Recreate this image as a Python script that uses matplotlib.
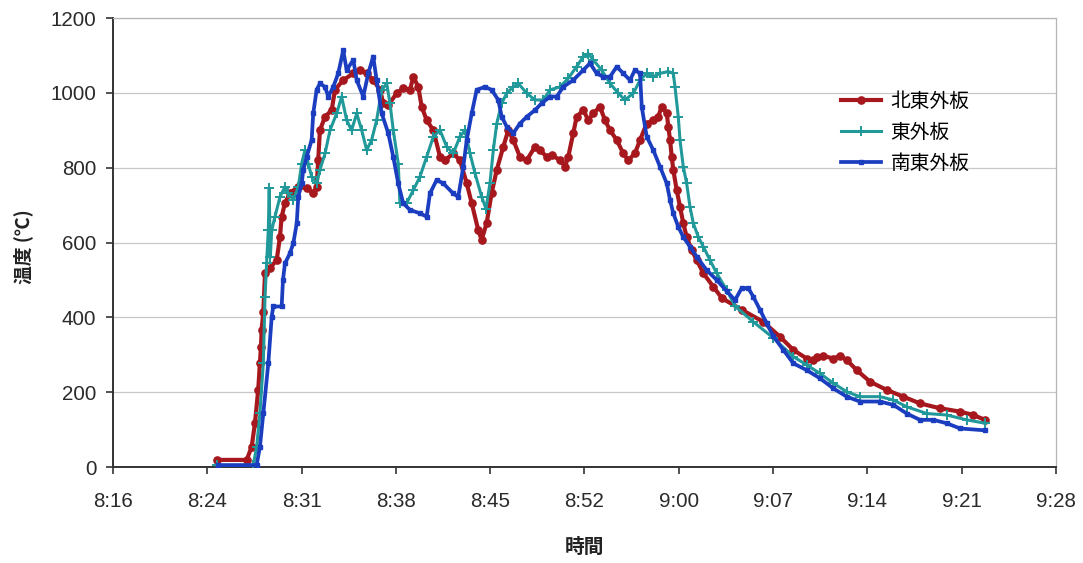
import matplotlib
matplotlib.use("Agg")
import matplotlib.pyplot as plt
from matplotlib.ticker import FixedLocator

plt.rcParams['font.family'] = ['Liberation Sans', 'Noto Sans CJK JP', 'DejaVu Sans']

# time in minutes after 8:00, temperature in deg C
ne_time = [24.77, 27.06, 27.44, 27.69, 27.94, 28.07, 28.15, 28.20, 28.33, 28.46, 28.84, 29.35,
           29.60, 29.73, 29.98, 30.36, 31.00, 31.64, 32.14, 32.40, 32.52, 32.65, 33.04, 33.55,
           33.80, 34.43, 35.20, 35.71, 36.22, 36.72, 37.24, 37.49, 37.87, 38.51, 39.01, 39.53,
           39.78, 40.16, 40.42, 40.80, 41.31, 41.82, 42.20, 42.83, 43.34, 43.86, 44.24, 44.74,
           45.00, 45.38, 45.76, 46.15, 46.65, 47.03, 47.41, 47.92, 48.44, 49.07, 49.45, 49.96,
           50.35, 50.98, 51.36, 51.61, 51.99, 52.25, 52.76, 53.14, 53.52, 54.03, 54.41, 54.80,
           55.31, 55.81, 56.19, 56.70, 57.09, 57.60, 58.10, 58.48, 58.74, 59.13, 59.25, 59.38,
           59.51, 59.63, 59.89, 60.14, 60.39, 60.65, 61.03, 61.42, 61.92, 62.68, 63.35, 64.87,
           66.50, 67.78, 68.79, 69.81, 70.32, 70.58, 71.08, 71.85, 72.36, 72.87, 73.63, 74.65,
           75.92, 77.19, 78.46, 79.99, 81.52, 82.53, 83.43]
ne_temp = [19, 19, 54, 117, 206, 278, 321, 366, 415, 518, 532, 553,
           615, 669, 705, 732, 749, 745, 732, 749, 820, 900, 936, 954,
           1008, 1034, 1052, 1061, 1052, 1034, 1008, 972, 967, 999, 1012, 1008,
           1043, 1016, 963, 927, 900, 829, 820, 838, 820, 758, 705, 633,
           607, 652, 732, 794, 856, 900, 874, 829, 820, 856, 847, 829,
           834, 820, 803, 829, 892, 936, 954, 927, 945, 963, 927, 900,
           874, 838, 820, 838, 874, 918, 927, 936, 963, 945, 910, 874,
           829, 794, 740, 696, 652, 615, 580, 553, 518, 482, 451, 420,
           388, 348, 313, 290, 286, 295, 297, 290, 297, 286, 259, 228,
           206, 188, 170, 157, 148, 139, 126]

e_time = [24.77, 27.56, 27.82, 28.07, 28.33, 28.46, 28.58, 28.71, 28.78, 28.86, 28.97, 29.22,
          29.60, 29.98, 30.23, 30.62, 31.00, 31.26, 31.51, 31.76, 32.02, 32.40, 32.65, 33.04,
          33.42, 33.93, 34.31, 34.69, 35.07, 35.46, 35.84, 36.22, 36.60, 36.98, 37.37, 37.75,
          38.00, 38.25, 38.63, 38.76, 39.27, 39.78, 40.29, 40.80, 41.31, 41.82, 42.33, 42.83,
          43.34, 43.73, 44.11, 44.49, 45.00, 45.33, 45.63, 45.89, 46.15, 46.53, 46.91, 47.41,
          47.80, 48.44, 49.07, 49.70, 50.22, 50.98, 51.61, 52.25, 52.76, 53.14, 53.52, 54.16,
          54.80, 55.43, 55.94, 56.58, 57.09, 57.60, 58.10, 58.61, 59.25, 59.63, 59.76, 60.01,
          60.14, 60.39, 60.65, 60.90, 61.16, 61.54, 61.92, 62.43, 62.94, 63.71, 64.34, 65.74,
          67.26, 68.79, 69.81, 70.83, 71.85, 72.87, 73.88, 75.41, 76.43, 77.45, 78.98, 80.50,
          82.03, 83.43]
e_temp = [5, 5, 54, 144, 278, 455, 545, 633, 745, 560, 633, 669,
          722, 749, 732, 714, 749, 811, 847, 811, 776, 758, 794, 838,
          900, 945, 990, 927, 900, 945, 900, 847, 874, 927, 1008, 1025,
          972, 900, 811, 705, 705, 740, 776, 829, 883, 900, 856, 838,
          883, 900, 838, 785, 722, 690, 758, 847, 918, 972, 999, 1016,
          1025, 999, 981, 981, 1008, 1016, 1039, 1070, 1097, 1105, 1088, 1061,
          1025, 999, 981, 999, 1034, 1052, 1043, 1052, 1057, 1052, 1016, 936,
          874, 803, 758, 696, 651, 615, 589, 553, 518, 473, 430, 388,
          345, 295, 273, 250, 224, 201, 188, 188, 179, 161, 143, 139,
          126, 117]

se_time = [24.87, 27.82, 28.07, 28.33, 28.71, 28.97, 29.09, 29.73, 29.83, 29.98, 30.36, 30.62,
           30.88, 31.00, 31.26, 31.38, 31.64, 32.02, 32.14, 32.40, 32.65, 33.04, 33.29, 33.67,
           34.05, 34.43, 34.69, 35.20, 35.46, 35.96, 36.34, 36.72, 36.98, 37.37, 37.87, 38.25,
           38.63, 39.01, 39.53, 40.29, 40.80, 41.05, 41.56, 42.07, 42.83, 43.21, 43.60, 43.86,
           44.24, 44.62, 45.25, 45.76, 46.27, 46.53, 46.91, 47.41, 47.92, 48.44, 49.07, 49.58,
           50.22, 50.73, 51.23, 51.99, 52.76, 53.27, 53.78, 54.28, 54.80, 55.31, 55.81, 56.32,
           56.70, 57.09, 57.22, 57.60, 58.10, 58.61, 59.13, 59.38, 59.63, 60.01, 60.39, 60.90,
           61.42, 62.18, 62.94, 63.71, 64.34, 64.85, 65.36, 65.74, 66.25, 66.76, 67.26, 68.03,
           68.79, 69.81, 70.83, 71.85, 72.87, 73.88, 75.41, 76.43, 77.45, 78.46, 79.48, 80.50,
           81.52, 83.43]
se_temp = [5, 5, 54, 144, 277, 402, 429, 429, 500, 544, 571, 598,
           651, 722, 758, 794, 829, 874, 945, 1008, 1025, 1016, 990, 1016,
           1052, 1114, 1061, 1088, 1034, 990, 1052, 1097, 1034, 945, 892, 829,
           758, 705, 687, 678, 669, 731, 767, 758, 731, 722, 803, 874,
           945, 1008, 1016, 1008, 981, 936, 910, 892, 918, 936, 954, 972,
           990, 990, 1016, 1034, 1061, 1079, 1052, 1043, 1043, 1070, 1052, 1034,
           1061, 1052, 963, 883, 847, 803, 758, 714, 678, 642, 615, 589,
           562, 526, 500, 470, 446, 478, 478, 455, 420, 384, 350, 313,
           277, 259, 237, 210, 188, 175, 175, 166, 143, 126, 126, 117,
           103, 98]

series_labels = ['北東外板', '東外板', '南東外板']
x_tick_labels = ['8:16', '8:24', '8:31', '8:38', '8:45', '8:52',
                 '9:00', '9:07', '9:14', '9:21', '9:28']
y_ticks = [0, 200, 400, 600, 800, 1000, 1200]

x_start = 16.85   # axis begins shortly before 8:17
x_step = 7.2      # 0.005 day between major ticks

cjk = ['Noto Sans CJK JP', 'DejaVu Sans']

fig = plt.figure(figsize=(10.83, 5.63), dpi=100)
ax = fig.add_axes([0.1043, 0.1705, 0.8708, 0.7975])

ax.plot(ne_time, ne_temp, color='#A6181D', lw=3.0, marker='o', ms=5.2,
        mec='#A6181D', mfc='#A6181D', label=series_labels[0], zorder=3)
ax.plot(e_time, e_temp, color='#21999A', lw=2.2, marker='+', ms=7.5,
        mew=1.4, label=series_labels[1], zorder=4)
ax.plot(se_time, se_temp, color='#1B3EC0', lw=2.7, marker='s', ms=3.0,
        mec='#1B3EC0', mfc='#1B3EC0', label=series_labels[2], zorder=5)

x_ticks = [x_start + x_step * i for i in range(len(x_tick_labels))]
ax.set_xlim(x_ticks[0], x_ticks[-1])
ax.set_ylim(0, 1200)
ax.xaxis.set_major_locator(FixedLocator(x_ticks))
ax.set_xticklabels(x_tick_labels, fontsize=14.8)
ax.set_yticks(y_ticks)
ax.set_yticklabels([str(v) for v in y_ticks], fontsize=14.8)

ax.yaxis.grid(True, color='#C8C8C8', lw=0.9)
ax.set_axisbelow(True)
for side in ('top', 'right'):
    ax.spines[side].set_color('#B5B5B5')
    ax.spines[side].set_linewidth(0.9)
for side in ('left', 'bottom'):
    ax.spines[side].set_color('#333333')
    ax.spines[side].set_linewidth(1.4)
ax.tick_params(axis='both', direction='out', length=4.8, width=1.2, color='#333333',
               labelcolor='#2A2A2A')
ax.tick_params(axis='x', pad=13.5)
ax.tick_params(axis='y', pad=7.2)

ax.set_ylabel('温度 (℃)', family=cjk, fontsize=13.5, fontweight='bold', color='#222222')
ax.yaxis.set_label_coords(-0.085, 0.49)
ax.set_xlabel('時間', family=cjk, fontsize=14.2, fontweight='bold', color='#222222',
              labelpad=19)

leg = ax.legend(loc='upper left', bbox_to_anchor=(0.764, 0.855), borderaxespad=0,
                frameon=False, prop={'family': cjk, 'size': 14.2},
                handlelength=2.0, labelspacing=0.5, handletextpad=0.5)

fig.savefig('out.png', dpi=100)
